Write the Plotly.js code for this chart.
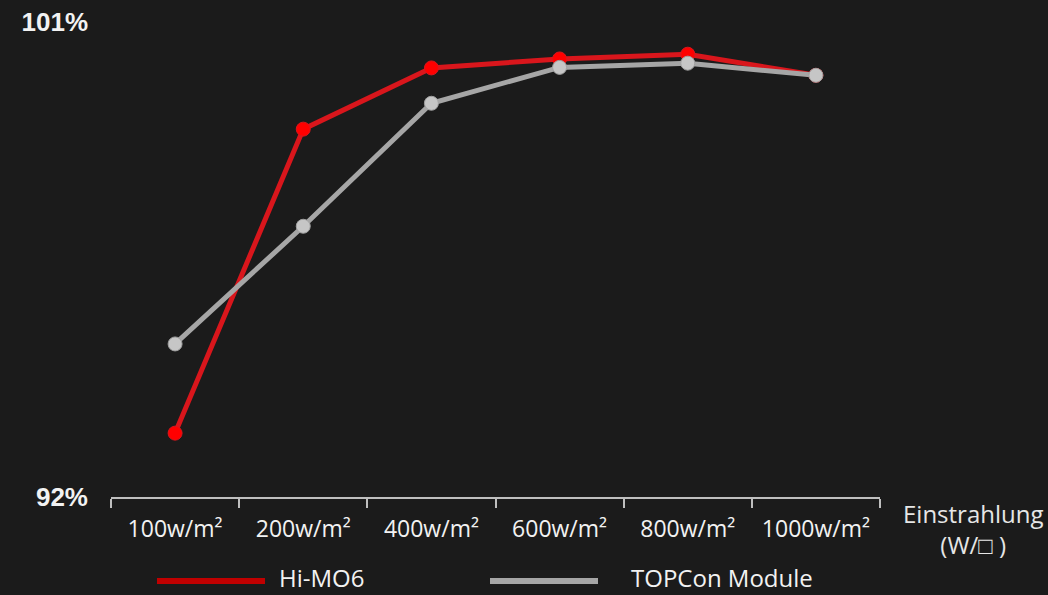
<!DOCTYPE html>
<html>
<head>
<meta charset="utf-8">
<script src="https://cdn.plot.ly/plotly-3.0.1.min.js"></script>
<style>html,body{margin:0;padding:0;background:#1b1b1b;}#chart{width:1048px;height:595px;}</style>
</head>
<body>
<div id="chart"></div>
<script>
const categories = ['100w/m²', '200w/m²', '400w/m²', '600w/m²', '800w/m²', '1000w/m²'];
const hiMO6 = [93.21, 98.97, 100.13, 100.30, 100.39, 99.99];
const topcon = [94.90, 97.13, 99.46, 100.14, 100.22, 99.99];
const seriesNames = ['Hi-MO6', 'TOPCon Module'];
const yTickVals = [92, 101];
const yTickText = ['92%', '101%'];
const xAxisTitle = 'Einstrahlung<br>(W/□ )';

const traces = [
  {
    x: categories, y: hiMO6, name: seriesNames[0], type: 'scatter', mode: 'lines+markers',
    line: {color: '#d9161c', width: 5},
    marker: {color: '#ff0000', size: 14, line: {color: '#d9161c', width: 1}},
    showlegend: false
  },
  {
    x: categories, y: topcon, name: seriesNames[1], type: 'scatter', mode: 'lines+markers',
    line: {color: '#a6a6a6', width: 5},
    marker: {color: '#c6c6c6', size: 14, line: {color: '#a0a0a0', width: 1}},
    showlegend: false
  }
];

const txtFont = 'Open Sans, Noto Sans, sans-serif';
const legY = (497 - 595) / 475;
const legLineY = (497 - 581) / 475;

const layout = {
  width: 1048, height: 595,
  paper_bgcolor: '#1b1b1b', plot_bgcolor: '#1b1b1b',
  margin: {l: 111, r: 168, t: 22, b: 98},
  showlegend: false,
  xaxis: {
    type: 'category', range: [-0.5, 5.5],
    showgrid: false, zeroline: false,
    showline: true, linecolor: '#bfbfbf', linewidth: 2,
    ticks: 'outside', tickson: 'boundaries', ticklen: 9, tickcolor: '#bfbfbf', tickwidth: 2,
    tickfont: {family: txtFont, size: 23, color: '#f2f2f2'},
    ticklabelstandoff: 10
  },
  yaxis: {
    range: [92, 101], showgrid: false, zeroline: false, showline: false,
    tickvals: yTickVals, ticktext: yTickText, ticks: '',
    tickfont: {family: 'Liberation Sans, Arial, sans-serif', size: 26, color: '#f2f2f2', weight: 'bold'},
    ticklabelstandoff: 22
  },
  annotations: [
    {xref: 'paper', yref: 'paper', x: (973 - 111) / 769, y: (497 - 529) / 475, xanchor: 'center', yanchor: 'middle',
     text: xAxisTitle, showarrow: false, align: 'center',
     font: {family: txtFont, size: 24, color: '#e6e6e6'}},
    {xref: 'paper', yref: 'paper', x: (278 - 111) / 769, y: legY, xanchor: 'left', yanchor: 'bottom',
     text: seriesNames[0], showarrow: false, borderpad: 0,
     font: {family: txtFont, size: 24, color: '#f2f2f2'}},
    {xref: 'paper', yref: 'paper', x: (630 - 111) / 769, y: legY, xanchor: 'left', yanchor: 'bottom',
     text: seriesNames[1], showarrow: false, borderpad: 0,
     font: {family: txtFont, size: 24, color: '#f2f2f2'}}
  ],
  shapes: [
    {type: 'line', xref: 'paper', yref: 'paper', x0: (157 - 111) / 769, x1: (265 - 111) / 769,
     y0: legLineY, y1: legLineY, line: {color: '#c00000', width: 6}},
    {type: 'line', xref: 'paper', yref: 'paper', x0: (490 - 111) / 769, x1: (598 - 111) / 769,
     y0: legLineY, y1: legLineY, line: {color: '#a6a6a6', width: 6}}
  ]
};

Plotly.newPlot('chart', traces, layout, {displayModeBar: false, staticPlot: true});
</script>
</body>
</html>
